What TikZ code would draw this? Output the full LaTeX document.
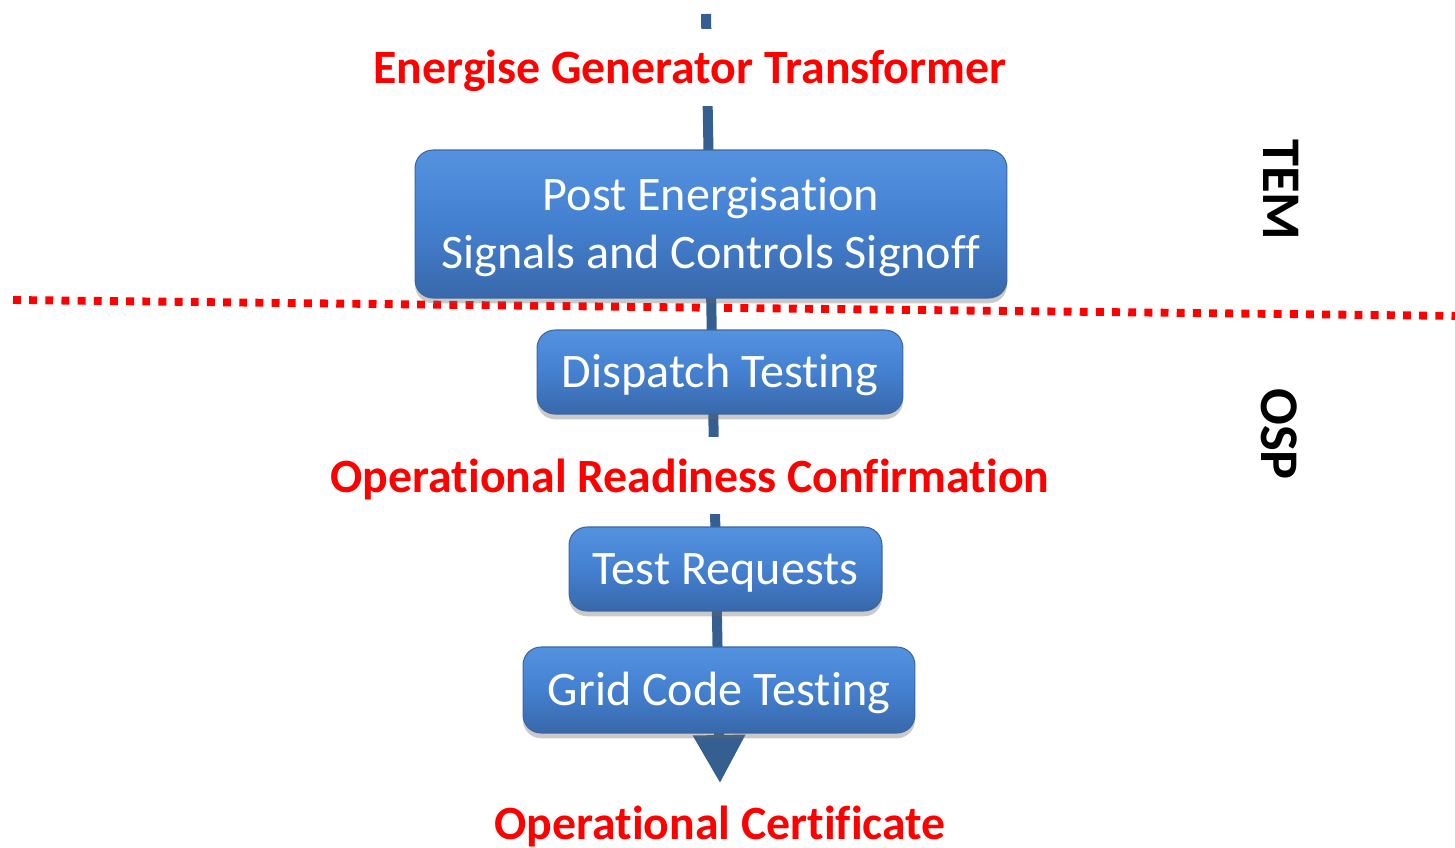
\documentclass[tikz,border=0pt]{standalone}
\usepackage{fontspec}
\setmainfont{Carlito}[Ligatures=NoCommon]
\usetikzlibrary{shadows,arrows.meta}
\definecolor{connc}{RGB}{54,95,145}
\definecolor{btop}{RGB}{84,146,224}
\definecolor{bmid}{RGB}{68,128,208}
\definecolor{bbot}{RGB}{56,104,170}
\definecolor{bline}{RGB}{58,102,162}
\definecolor{redc}{RGB}{255,0,0}
\begin{document}
\begin{tikzpicture}[x=0.02cm,y=-0.02cm,
  stepbox/.style={rounded corners=0.36cm, draw=bline, line width=0.6pt,
    top color=btop, bottom color=bbot, middle color=bmid,
    drop shadow={shadow xshift=0pt,shadow yshift=-3pt,opacity=0.35,fill=black!60},
    text=white, font=\fontsize{27.4}{33}\selectfont, align=center,
    text height=17.5pt, text depth=0pt, inner sep=0pt},
  milestone/.style={fill=white, text=redc, font=\bfseries\fontsize{27.2}{33}\selectfont,
    anchor=base, text height=1.1cm, text depth=0.44cm, inner ysep=0pt, inner xsep=2pt},
  sidelabel/.style={font=\bfseries\fontsize{31}{31}\selectfont, rotate=-90, inner sep=0pt},
  spine/.style={draw=connc, line width=0.2cm, -{Triangle[width=1cm,length=0.96cm]}},
  sep/.style={draw=redc, line width=4.5pt, dash pattern=on 4.5pt off 4.7pt}
]
\useasboundingbox (0,0) rectangle (1455,848);
% separator
\coordinate (dl) at (13,300);
\coordinate (dr) at (1462,316);
\draw[sep] (dl) -- (dr);
% spine
\coordinate (top) at (706,14);
\coordinate (tip) at (720,783);
\draw[spine] (top) -- (tip);
% milestones
\node[milestone] (m1) at (690,84) {Energise Generator Transformer};
\node[milestone] (m2) at (690,492) {Operational Readiness Confirmation};
\node[text=redc, font=\bfseries\fontsize{27.2}{33}\selectfont, anchor=base, inner sep=0pt] (m3) at (720,839) {Operational Certificate};
% boxes
\node[stepbox, minimum width=11.84cm, minimum height=2.96cm, text height=50.5pt] (b1) at (711,224) {Post Energisation\\Signals and Controls Signoff};
\node[stepbox, minimum width=7.32cm, minimum height=1.68cm] (b2) at (720,372) {Dispatch Testing};
\node[stepbox, minimum width=6.26cm, minimum height=1.68cm] (b3) at (725.5,569) {Test Requests};
\node[stepbox, minimum width=7.84cm, minimum height=1.72cm] (b4) at (719,690) {Grid Code Testing};
% side labels
\node[sidelabel] (tem) at (1281,190) {TEM};
\node[sidelabel] (osp) at (1279,434) {OSP};
\end{tikzpicture}
\end{document}
